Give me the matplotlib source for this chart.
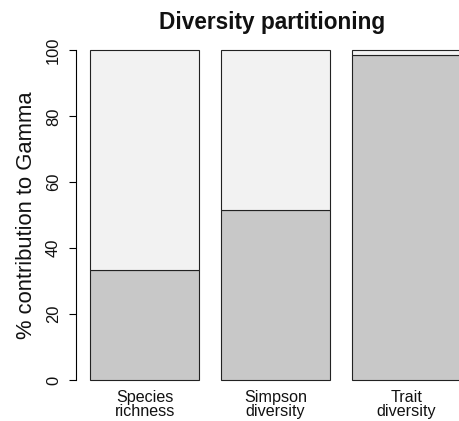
import matplotlib
matplotlib.use("Agg")
import matplotlib.pyplot as plt

categories = ["Species\nrichness", "Simpson\ndiversity", "Trait\ndiversity"]
lower_values = [33.5, 51.5, 98.7]
upper_values = [100 - v for v in lower_values]
y_ticks = [0, 20, 40, 60, 80, 100]

plt.rcParams['font.family'] = ['Liberation Sans', 'DejaVu Sans']

W, H = 459, 421
fig = plt.figure(figsize=(W / 100, H / 100), dpi=100)
ax_left_px, unit_px = 75.5, 108.9
ax_top_px, ax_bot_px = 37.3, 393.2
ax = fig.add_axes([ax_left_px / W, 1 - ax_bot_px / H, 3.672 * unit_px / W, (ax_bot_px - ax_top_px) / H])

x = [0.7 + 1.2 * i for i in range(len(categories))]
ax.bar(x, lower_values, width=1.0, color="#c8c8c8", edgecolor="#222222", linewidth=0.8)
ax.bar(x, upper_values, width=1.0, bottom=lower_values, color="#f2f2f2", edgecolor="#222222", linewidth=0.8)

ax.set_xlim(0.064, 3.736)
ax.set_ylim(-4, 104)
for s in ["top", "right", "bottom"]:
    ax.spines[s].set_visible(False)
ax.spines["left"].set_bounds(0, 100)
ax.spines["left"].set_linewidth(0.8)
ax.set_yticks(y_ticks)
ax.set_yticklabels([str(t) for t in y_ticks], rotation=90, va="center", fontsize=11.9, color="#111111")
ax.tick_params(axis="y", length=5.2, width=0.8, pad=5.2)
ax.set_xticks([])
for xi, lab in zip(x, categories):
    ax.text(xi, -2.9, lab, ha="center", va="top", fontsize=11.6, linespacing=0.98, color="#111111")

fig.text(32 / W, 1 - 215 / H, "% contribution to Gamma", rotation=90, rotation_mode="anchor",
         ha="center", va="baseline", fontsize=15.8, color="#111111")
fig.text(272 / W, 1 - 23 / H, "Diversity partitioning", ha="center", va="center",
         fontsize=16.3, fontweight="bold", color="#111111")

fig.savefig("out.png", dpi=100)
